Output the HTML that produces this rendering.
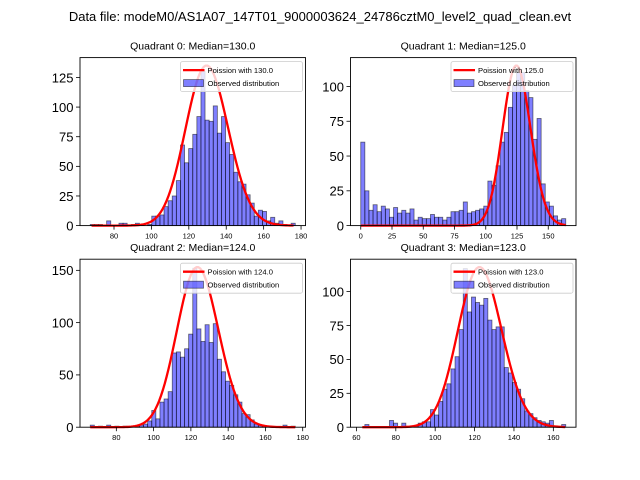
<!DOCTYPE html>
<html><head><meta charset="utf-8"><style>
html,body{margin:0;padding:0;background:#fff;}
svg{display:block;font-family:"Liberation Sans","DejaVu Sans",sans-serif;}
</style></head><body>
<svg id="fig" width="640" height="480" viewBox="0 0 640 480">
<text x="320" y="21" text-anchor="middle" font-size="13" fill="#000">Data file: modeM0/AS1A07_147T01_9000003624_24786cztM0_level2_quad_clean.evt</text>
</svg>
<script>
// ---- data ----
const q0Counts = [1,1,1,0,4,0,0,2,2,0,1,2,1,0,1,8,8,9,16,21,25,38,68,53,65,77,92,130,89,88,101,78,92,70,60,45,37,35,26,19,8,13,12,4,7,2,4,1,0,2];
const q1Counts = [60,25,11,15,10,14,12,6,13,9,11,9,12,4,6,5,5,8,6,6,4,6,10,10,11,17,9,10,11,12,14,32,29,43,60,67,85,101,110,110,97,92,62,77,30,17,14,7,4,5];
const q2Counts = [2,0,1,0,2,0,1,0,1,0,0,1,2,3,6,16,8,24,27,34,71,72,67,75,89,152,94,82,98,81,99,65,53,44,40,31,24,13,12,7,3,2,1,0,0,0,0,2,0,1];
const q3Counts = [0,2,0,0,0,0,0,5,3,0,3,0,0,1,3,4,4,13,9,19,28,32,43,52,72,117,85,96,92,90,95,79,72,74,74,44,40,33,28,21,12,10,7,5,4,3,5,1,0,2];
const binRanges = [[67.3,176.9],[0,164],[66,176],[62.2,166.3]];
const medians = [130,125,124,123];
const curvePeaks = [135,115,153,118];
const xTickLabels = [[80,100,120,140,160,180],[0,25,50,75,100,125,150],[80,100,120,140,160,180],[60,80,100,120,140,160]];
const yTickLabels = [[0,25,50,75,100,125],[0,25,50,75,100],[0,50,100,150],[0,25,50,75,100]];
const quadTitles = ["Quadrant 0: Median=130.0","Quadrant 1: Median=125.0","Quadrant 2: Median=124.0","Quadrant 3: Median=123.0"];
const allCounts = [q0Counts,q1Counts,q2Counts,q3Counts];

const NS = "http://www.w3.org/2000/svg";
const svg = document.getElementById('fig');
function mk(tag, attrs, parent){const e=document.createElementNS(NS,tag);for(const k in attrs)e.setAttribute(k,attrs[k]);(parent||svg).appendChild(e);return e;}
function logPmf(k, lam){let lf=0;for(let i=2;i<=k;i++)lf+=Math.log(i);return k*Math.log(lam)-lam-lf;}

const boxes = [[80,57.6],[350.5,57.6],[80,259.2],[350.5,259.2]];
const W=225.5, H=168;

for(let q=0;q<4;q++){
  const [L,T]=boxes[q];
  const counts=allCounts[q];
  const [b0,b1]=binRanges[q];
  const nb=counts.length, bw=(b1-b0)/nb;
  const pad=(b1-b0)*0.05;
  const xmin=b0-pad, xmax=b1+pad;
  const lam=medians[q], peak=curvePeaks[q];
  const ymax=Math.max(Math.max(...counts),peak)*1.05;
  const sx=v=>L+(v-xmin)/(xmax-xmin)*W;
  const sy=v=>T+H-v/ymax*H;
  const g=mk('g',{});
  
  
  const title=mk('text',{x:L+W/2,y:T-8,'text-anchor':'middle','font-size':'10.5',fill:'#000'},g);
  title.textContent=quadTitles[q];
  
  
  // bars
  for(let i=0;i<nb;i++){
    const x0=sx(b0+i*bw), x1=sx(b0+(i+1)*bw);
    const r=mk('rect',{x:x0,y:sy(counts[i]),width:x1-x0,height:sy(0)-sy(counts[i]),fill:'rgba(0,0,255,0.5)',stroke:'rgba(0,0,0,0.55)','stroke-width':'0.8'},g);
    
    
  }
  // curve
  const ref=logPmf(Math.floor(lam),lam);
  let d='';
  for(let k=Math.ceil(b0);k<=Math.floor(b1);k++){
    const v=peak*Math.exp(logPmf(k,lam)-ref);
    d+=(d?'L':'M')+sx(k).toFixed(2)+' '+sy(v).toFixed(2);
  }
  const c=mk('path',{d:d,fill:'none',stroke:'#ff0000','stroke-width':'2.3','stroke-linejoin':'round'},g);
  
  
  // frame
  const f=mk('rect',{x:L,y:T,width:W,height:H,fill:'none',stroke:'#000','stroke-width':'0.9'},g);
  
  
  // x ticks
  xTickLabels[q].forEach(v=>{
    const x=sx(v);
    mk('line',{x1:x,y1:T+H,x2:x,y2:T+H+4,stroke:'#000','stroke-width':'0.8'},g);
    const t=mk('text',{x:x,y:T+H+13,'text-anchor':'middle','font-size':'7.5',fill:'#000'},g);
    t.textContent=v;
    
    
  });
  // y ticks
  yTickLabels[q].forEach(v=>{
    const y=sy(v);
    mk('line',{x1:L-4,y1:y,x2:L,y2:y,stroke:'#000','stroke-width':'0.8'},g);
    const t=mk('text',{x:L-6.5,y:y+4.8,'text-anchor':'end','font-size':'13',fill:'#000'},g);
    t.textContent=v;
    
    
  });
  // legend
  const lx=L+W-125, ly=T+4;
  const lg=mk('g',{},g);
  
  
  mk('rect',{x:lx,y:ly,width:122,height:30,rx:2,fill:'rgba(255,255,255,0.8)',stroke:'#ccc','stroke-width':'0.8'},lg);
  mk('line',{x1:lx+2.5,y1:ly+8.5,x2:lx+24,y2:ly+8.5,stroke:'#ff0000','stroke-width':'2.3'},lg);
  mk('rect',{x:lx+3,y:ly+18,width:20,height:7,fill:'rgba(0,0,255,0.5)',stroke:'rgba(0,0,0,0.55)','stroke-width':'0.8'},lg);
  const t1=mk('text',{x:lx+27,y:ly+11.3,'font-size':'7.6',fill:'#000'},lg);
  t1.textContent='Poission with '+lam.toFixed(1);
  
  
  const t2=mk('text',{x:lx+27,y:ly+24.5,'font-size':'7.6',fill:'#000'},lg);
  t2.textContent='Observed distribution';
  
  
}
</script>
</body></html>
